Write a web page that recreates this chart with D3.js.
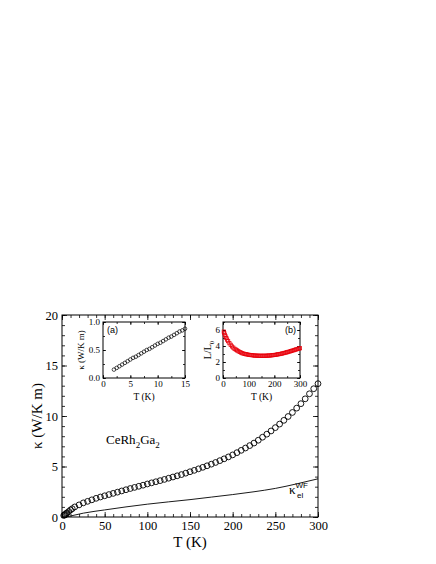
<!DOCTYPE html>
<meta charset="utf-8">
<script src="https://d3js.org/d3.v7.min.js"></script>
<style>
  body { margin: 0; background: #fff; }
  .serif { font-family: "Liberation Serif", "Times New Roman", serif; }
  .sans { font-family: "Liberation Sans", Arial, sans-serif; }
</style>
<div id="my_dataviz"></div>
<script>

  // main panel: total kappa (open circles)
  var mainT = [2, 3, 4, 5, 6, 8, 10, 12, 15, 20, 25, 30, 35, 40, 45, 50, 55, 60, 65, 70, 75, 80, 85, 90, 95,
    100, 105, 110, 115, 120, 125, 130, 135, 140, 145, 150, 155, 160, 165, 170, 175, 180, 185, 190, 195,
    200, 205, 210, 215, 220, 225, 230, 235, 240, 245, 250, 255, 260, 265, 270, 275, 280, 285, 290, 295, 300];
  var mainK = [0.15, 0.2, 0.28, 0.35, 0.42, 0.55, 0.7, 0.82, 1.0, 1.2, 1.4, 1.55, 1.7, 1.85, 1.98, 2.1, 2.22, 2.34, 2.46, 2.58, 2.7, 2.82, 2.93, 3.04, 3.15,
    3.27, 3.38, 3.49, 3.6, 3.72, 3.84, 3.96, 4.08, 4.2, 4.34, 4.48, 4.62, 4.77, 4.92, 5.07, 5.23, 5.4, 5.58, 5.76, 5.95,
    6.15, 6.37, 6.6, 6.83, 7.07, 7.32, 7.6, 7.9, 8.2, 8.52, 8.85, 9.2, 9.57, 9.95, 10.35, 10.78, 11.22, 11.7, 12.2, 12.7, 13.2];

  // Wiedemann-Franz electronic part (solid line)
  var wfT = [5, 10, 25, 50, 75, 100, 125, 150, 175, 200, 225, 250, 275, 300];
  var wfK = [0.0, 0.1, 0.38, 0.7, 1.0, 1.27, 1.5, 1.72, 1.97, 2.22, 2.5, 2.83, 3.28, 3.78];

  // inset (a): low temperature kappa
  var insAT = [2, 2.5, 3, 3.5, 4, 4.5, 5, 5.5, 6, 6.5, 7, 7.5, 8, 8.5, 9, 9.5, 10, 10.5, 11, 11.5, 12, 12.5, 13, 13.5, 14, 14.5, 15];
  var insAK = [0.15, 0.18, 0.21, 0.24, 0.27, 0.3, 0.33, 0.36, 0.38, 0.41, 0.44, 0.47, 0.5, 0.52, 0.55, 0.58, 0.61, 0.63, 0.66, 0.69, 0.72, 0.74, 0.77, 0.8, 0.83, 0.85, 0.88];

  // inset (b): Lorenz ratio L/L0
  var insBT = [3, 5, 7, 10, 13, 16, 20, 25, 30, 35, 40, 45, 50, 55, 60, 65, 70, 75, 80, 85, 90, 95, 100, 105, 110, 115, 120, 125, 130, 135, 140, 145, 150,
    155, 160, 165, 170, 175, 180, 185, 190, 195, 200, 205, 210, 215, 220, 225, 230, 235, 240, 245, 250, 255, 260, 265, 270, 275, 280, 285, 290, 295, 300];
  var insBL = [5.8, 5.6, 5.4, 5.2, 5.0, 4.8, 4.6, 4.35, 4.15, 3.95, 3.8, 3.65, 3.55, 3.45, 3.35, 3.25, 3.18, 3.1, 3.05, 3.0, 2.97, 2.94, 2.9, 2.88, 2.86, 2.84, 2.82, 2.8, 2.8, 2.79, 2.78, 2.78, 2.78,
    2.78, 2.78, 2.78, 2.79, 2.8, 2.81, 2.82, 2.84, 2.86, 2.88, 2.9, 2.93, 2.96, 2.99, 3.02, 3.06, 3.1, 3.14, 3.18, 3.22, 3.27, 3.32, 3.37, 3.42, 3.47, 3.52, 3.57, 3.62, 3.67, 3.72];

  var mainXTicks = [0, 50, 100, 150, 200, 250, 300];
  var mainYTicks = [0, 5, 10, 15, 20];
  var aXTicks = [0, 5, 10, 15];
  var aYTicks = [0.0, 0.5, 1.0];
  var bXTicks = [0, 100, 200, 300];
  var bYTicks = [0, 2, 4, 6];

  var svg = d3.select("#my_dataviz")
    .append("svg")
    .attr("width", 436)
    .attr("height", 564);

  // frame with inward ticks on all four sides
  function frame(g, x, y, w, h, o) {
    var fs = o.fs;
    g.append("g").attr("class", "serif")
      .attr("transform", "translate(0," + h + ")")
      .call(d3.axisBottom(x).tickValues(o.xt).tickSize(-o.big).tickPadding(o.pad).tickFormat(o.xf || d3.format("d")))
      .call(s => s.selectAll("text").attr("font-size", fs).attr("fill", "#000"));
    g.append("g").attr("class", "serif")
      .call(d3.axisLeft(y).tickValues(o.yt).tickSize(-o.big).tickPadding(o.pad).tickFormat(o.yf || d3.format("d")))
      .call(s => s.selectAll("text").attr("font-size", fs).attr("fill", "#000"));
    g.append("g").call(d3.axisTop(x).tickValues(o.xt).tickSize(-o.big).tickFormat(""));
    g.append("g").attr("transform", "translate(" + w + ",0)")
      .call(d3.axisRight(y).tickValues(o.yt).tickSize(-o.big).tickFormat(""));
    // minor ticks
    g.append("g").attr("transform", "translate(0," + h + ")")
      .call(d3.axisBottom(x).tickValues(o.xm).tickSize(-o.small).tickFormat(""));
    g.append("g").call(d3.axisTop(x).tickValues(o.xm).tickSize(-o.small).tickFormat(""));
    g.append("g").call(d3.axisLeft(y).tickValues(o.ym).tickSize(-o.small).tickFormat(""));
    g.append("g").attr("transform", "translate(" + w + ",0)")
      .call(d3.axisRight(y).tickValues(o.ym).tickSize(-o.small).tickFormat(""));
    g.selectAll(".domain").remove();
    g.selectAll(".tick line").attr("stroke", "#000").attr("stroke-width", 0.8);
    g.append("rect").attr("width", w).attr("height", h)
      .attr("fill", "none").attr("stroke", "#000").attr("stroke-width", 1);
  }

  function steps(a, b, s) {
    var r = [];
    for (var v = a; v <= b + 1e-9; v += s) r.push(+v.toFixed(4));
    return r;
  }

  // ---------- main panel ----------
  var m = { left: 62, top: 315, w: 256, h: 202 };
  var gm = svg.append("g").attr("transform", "translate(" + m.left + "," + m.top + ")");
  var x = d3.scaleLinear().domain([0, 300]).range([0, m.w]);
  var y = d3.scaleLinear().domain([0, 20]).range([m.h, 0]);

  frame(gm, x, y, m.w, m.h, {
    xt: mainXTicks, yt: mainYTicks, xm: steps(0, 300, 10), ym: steps(0, 20, 1),
    big: 5, small: 3, pad: 4, fs: 12.5
  });

  var line = d3.line().x((d, i) => x(wfT[i])).y((d, i) => y(wfK[i])).curve(d3.curveMonotoneX);
  gm.append("path").datum(wfK)
    .attr("fill", "none").attr("stroke", "#000").attr("stroke-width", 0.9)
    .attr("d", line);

  gm.selectAll("circle.main").data(mainK).enter().append("circle")
    .attr("cx", (d, i) => x(mainT[i])).attr("cy", d => y(d)).attr("r", 2.9)
    .attr("fill", "none").attr("stroke", "#000").attr("stroke-width", 0.9);

  gm.append("text").attr("class", "serif").attr("font-size", 13)
    .attr("x", 44).attr("y", 129)
    .html('CeRh<tspan dy="4" font-size="9">2</tspan><tspan dy="-4">Ga</tspan><tspan dy="4" font-size="9">2</tspan>');

  gm.append("text").attr("class", "serif").attr("font-size", 13)
    .attr("x", 227).attr("y", 179)
    .html('κ<tspan class="sans" font-size="8" dy="-6">WF</tspan><tspan class="sans" font-size="8" dx="-11" dy="10">el</tspan>');

  svg.append("text").attr("class", "serif").attr("font-size", 15)
    .attr("x", m.left + m.w / 2).attr("y", 547).attr("text-anchor", "middle").text("T (K)");
  svg.append("text").attr("class", "serif").attr("font-size", 15)
    .attr("transform", "translate(42," + (m.top + m.h / 2) + ") rotate(-90)")
    .attr("text-anchor", "middle").text("κ (W/K m)");

  // ---------- inset (a) ----------
  var a = { left: 103, top: 322, w: 82, h: 56 };
  var ga = svg.append("g").attr("transform", "translate(" + a.left + "," + a.top + ")");
  var xa = d3.scaleLinear().domain([0, 15]).range([0, a.w]);
  var ya = d3.scaleLinear().domain([0, 1]).range([a.h, 0]);
  frame(ga, xa, ya, a.w, a.h, {
    xt: aXTicks, yt: aYTicks, xm: steps(0, 15, 2.5), ym: steps(0, 1, 0.25),
    big: 3, small: 2, pad: 3, fs: 9, yf: d3.format(".1f")
  });
  ga.selectAll("circle.a").data(insAK).enter().append("circle")
    .attr("cx", (d, i) => xa(insAT[i])).attr("cy", d => ya(d)).attr("r", 1.8)
    .attr("fill", "none").attr("stroke", "#000").attr("stroke-width", 0.7);
  ga.append("text").attr("class", "sans").attr("font-size", 9).attr("x", 4).attr("y", 11).text("(a)");
  ga.append("text").attr("class", "serif").attr("font-size", 9.5)
    .attr("x", a.w / 2).attr("y", a.h + 22).attr("text-anchor", "middle").text("T (K)");
  ga.append("text").attr("class", "serif").attr("font-size", 9)
    .attr("transform", "translate(-19," + (a.h / 2) + ") rotate(-90)")
    .attr("text-anchor", "middle").text("κ (W/K m)");

  // ---------- inset (b) ----------
  var b = { left: 223, top: 322, w: 77, h: 56 };
  var gb = svg.append("g").attr("transform", "translate(" + b.left + "," + b.top + ")");
  var xb = d3.scaleLinear().domain([0, 300]).range([0, b.w]);
  var yb = d3.scaleLinear().domain([0, 7]).range([b.h, 0]);
  frame(gb, xb, yb, b.w, b.h, {
    xt: bXTicks, yt: bYTicks, xm: steps(0, 300, 50), ym: steps(0, 7, 1),
    big: 3, small: 2, pad: 3, fs: 9
  });
  gb.selectAll("rect.b").data(insBL).enter().append("rect")
    .attr("x", (d, i) => xb(insBT[i]) - 1.6).attr("y", d => yb(d) - 1.6)
    .attr("width", 3.2).attr("height", 3.2)
    .attr("fill", "none").attr("stroke", "#e8000b").attr("stroke-width", 0.8);
  gb.append("text").attr("class", "sans").attr("font-size", 9)
    .attr("x", b.w - 4).attr("y", 11).attr("text-anchor", "end").text("(b)");
  gb.append("text").attr("class", "serif").attr("font-size", 9.5)
    .attr("x", b.w / 2).attr("y", b.h + 22).attr("text-anchor", "middle").text("T (K)");
  gb.append("text").attr("class", "serif").attr("font-size", 10)
    .attr("transform", "translate(-12," + (b.h / 2) + ") rotate(-90)")
    .attr("text-anchor", "middle")
    .html('L/L<tspan font-size="7" dy="3">0</tspan>');

</script>
